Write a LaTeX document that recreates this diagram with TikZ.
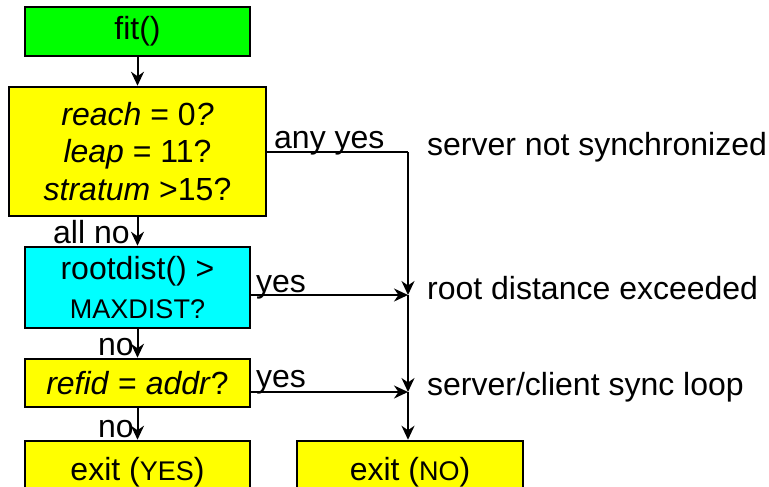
\documentclass[tikz,border=0pt]{standalone}
\usepackage{fontspec}
\setmainfont{Liberation Sans}
\usetikzlibrary{arrows.meta}
\definecolor{boxgreen}{RGB}{0,255,0}
\definecolor{boxyellow}{RGB}{255,255,0}
\definecolor{boxcyan}{RGB}{0,255,255}
\newcommand{\bigf}{\fontsize{32}{37.5}\selectfont}
\newcommand{\smallf}{\fontsize{27}{30}\selectfont}
\begin{document}
\begin{tikzpicture}[x=1pt,y=-1pt,
  fbox/.style={draw=black, line width=2.5pt, align=center, inner sep=0pt, font=\bigf},
  conn/.style={line width=2pt, -{Stealth[length=14pt,width=13pt,inset=4.5pt]}},
  plain/.style={line width=2pt},
  lbl/.style={anchor=base west, inner sep=0pt, font=\bigf}]
\useasboundingbox (0,0) rectangle (769,487);
\node[fbox, fill=boxgreen, minimum width=225pt, minimum height=49pt] (fit) at (137.5,31.5) {fit()};
\node[fbox, fill=boxyellow, minimum width=257pt, minimum height=129pt] (q1) at (137.5,151.5)
  {\textit{reach} = 0\textit{?}\\ \textit{leap} = 11?\\ \textit{stratum} >15?};
\node[fbox, fill=boxcyan, minimum width=225pt, minimum height=81pt] (q2) at (137.5,287.5)
  {rootdist() >\\[1pt] {\smallf MAXDIST?}};
\node[fbox, fill=boxyellow, minimum width=225pt, minimum height=48pt] (q3) at (137.5,383)
  {\textit{refid} = \textit{addr}?};
\node[fbox, fill=boxyellow, minimum width=225pt, minimum height=62pt] (ey) at (137.5,472)
  {exit ({\smallf YES})};
\node[fbox, fill=boxyellow, minimum width=226pt, minimum height=62pt] (en) at (410,472)
  {exit ({\smallf NO})};
\coordinate (j0) at (408,152);
\coordinate (j1) at (408,295);
\coordinate (j2) at (408,392);
\draw[conn] (fit.south) -- (q1.north);
\draw[conn] (q1.south) -- (q2.north);
\draw[conn] (q2.south) -- (q3.north);
\draw[conn] (q3.south) -- (ey.north);
\draw[plain] (q1.east |- j0) -- (j0);
\draw[conn] (j0) -- (j1);
\draw[conn] (j1) -- (j2);
\draw[conn] (j2) -- (j2 |- en.north);
\draw[conn] (q2.east |- j1) -- (j1);
\draw[conn] (q3.east |- j2) -- (j2);
\node[lbl] (ly0) at (274,148) {any yes};
\node[lbl] (ly1) at (256,292) {yes};
\node[lbl] (ly2) at (256,387) {yes};
\node[lbl] (ln0) at (53,243) {all no};
\node[lbl] (ln1) at (98,355) {no};
\node[lbl] (ln2) at (98,437) {no};
\node[lbl] (r0) at (427,155) {server not synchronized};
\node[lbl] (r1) at (427,299) {root distance exceeded};
\node[lbl] (r2) at (427,395) {server/client sync loop};
\end{tikzpicture}
\end{document}
